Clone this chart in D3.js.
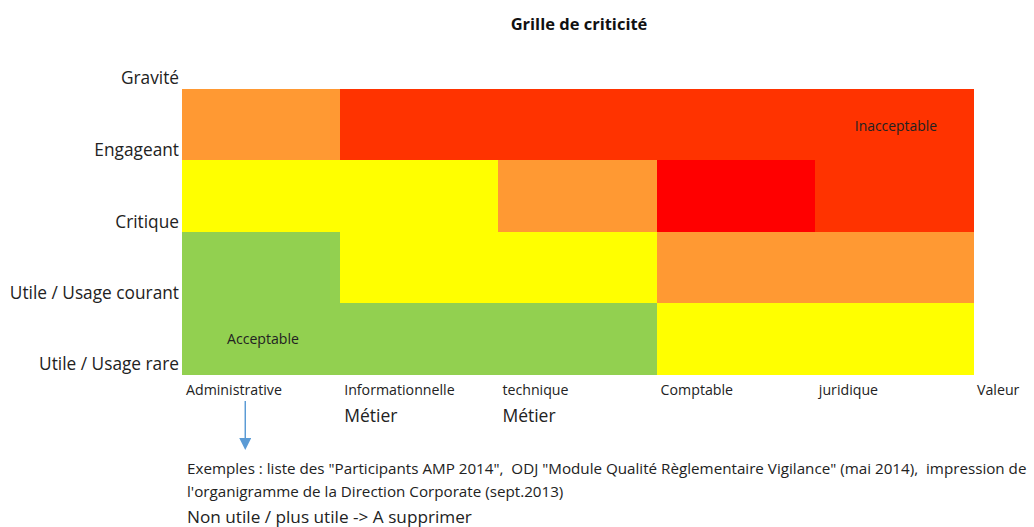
<!DOCTYPE html>
<html>
<head>
<meta charset="utf-8">
<script src="https://cdn.jsdelivr.net/npm/d3@7"></script>
<style>
  body { margin: 0; background: #fff; }
  svg { font-family: "Open Sans", "Noto Sans", sans-serif; }
  text { white-space: pre; }
</style>
</head>
<body>
<svg id="chart"></svg>
<script>
const width = 1034;
const height = 527;

// axis categories
const valeurs = ["Administrative", "Informationnelle", "technique", "Comptable", "juridique"];
const gravites = ["Engageant", "Critique", "Utile / Usage courant", "Utile / Usage rare"];
const niveaux = ["vert", "jaune", "orange", "rougeOrange", "rouge"];
const couleurs = ["#92d050", "#ffff00", "#ff9933", "#ff3300", "#ff0000"];

// level of each cell, one row per gravity (top to bottom)
const grille = [
  ["orange", "rougeOrange", "rougeOrange", "rougeOrange", "rougeOrange"],
  ["jaune", "jaune", "orange", "rouge", "rougeOrange"],
  ["vert", "jaune", "jaune", "orange", "orange"],
  ["vert", "vert", "vert", "jaune", "jaune"]
];

const margin = { top: 89, left: 182, right: 61, bottom: 153 };

const svg = d3.select("#chart")
  .attr("width", width)
  .attr("height", height);

const x = d3.scaleBand()
  .domain(valeurs)
  .range([margin.left, width - margin.right]);

const y = d3.scaleBand()
  .domain(gravites)
  .range([margin.top, height - margin.bottom]);

const color = d3.scaleOrdinal()
  .domain(niveaux)
  .range(couleurs);

// cells
const cells = [];
grille.forEach((row, i) => row.forEach((lvl, j) => {
  cells.push({ g: gravites[i], v: valeurs[j], lvl: lvl });
}));

svg.append("g")
  .attr("shape-rendering", "crispEdges")
  .selectAll("rect")
  .data(cells)
  .join("rect")
  .attr("x", d => Math.round(x(d.v)))
  .attr("y", d => Math.round(y(d.g)))
  .attr("width", x.bandwidth() + 1)
  .attr("height", y.bandwidth() + 1)
  .attr("fill", d => color(d.lvl));

// title
svg.append("text")
  .attr("x", 579)
  .attr("y", 30)
  .attr("text-anchor", "middle")
  .attr("font-weight", "bold")
  .attr("font-size", 16.5)
  .attr("fill", "#111")
  .text("Grille de criticité");

// y labels sit on the lower edge of each row
const yLab = svg.append("g")
  .attr("font-size", 17.3)
  .attr("fill", "#222")
  .attr("text-anchor", "end");

yLab.append("text")
  .attr("x", margin.left - 3)
  .attr("y", y.range()[0] - 5)
  .text("Gravité");

yLab.selectAll("text.g")
  .data(gravites)
  .join("text")
  .attr("class", "g")
  .attr("x", margin.left - 3)
  .attr("y", d => y(d) + y.bandwidth() - 4)
  .text(d => d);

// x labels at the left edge of each column
const xLab = svg.append("g")
  .attr("font-size", 14.2)
  .attr("fill", "#222");

xLab.selectAll("text.v")
  .data(valeurs.concat(["Valeur"]))
  .join("text")
  .attr("class", "v")
  .attr("x", (d, i) => (i < valeurs.length ? x(d) : x.range()[1]) + 4)
  .attr("y", height - margin.bottom + 21)
  .text(d => d);

xLab.selectAll("text.m")
  .data(["Informationnelle", "technique"])
  .join("text")
  .attr("class", "m")
  .attr("x", d => x(d) + 4)
  .attr("y", height - margin.bottom + 48)
  .attr("font-size", 17.5)
  .text("Métier");

// zone labels
svg.append("text")
  .attr("x", x("juridique") + 40)
  .attr("y", y("Engageant") + 42)
  .attr("font-size", 13.9)
  .attr("fill", "#222")
  .text("Inacceptable");

svg.append("text")
  .attr("x", x("Administrative") + 45)
  .attr("y", y("Utile / Usage rare") + 41)
  .attr("font-size", 14.1)
  .attr("fill", "#222")
  .text("Acceptable");

// arrow
svg.append("defs").append("marker")
  .attr("id", "tete")
  .attr("viewBox", "0 0 10 10")
  .attr("refX", 5).attr("refY", 5)
  .attr("markerWidth", 8).attr("markerHeight", 8)
  .attr("orient", "auto")
  .append("path")
  .attr("d", "M0,0L10,5L0,10Z")
  .attr("fill", "#5b9bd5");

const ax = x("Administrative") + x.bandwidth() * 0.4;
svg.append("line")
  .attr("x1", ax).attr("x2", ax)
  .attr("y1", 401).attr("y2", 444)
  .attr("stroke", "#5b9bd5")
  .attr("stroke-width", 1.5)
  .attr("marker-end", "url(#tete)");

// notes below
const notes = svg.append("g").attr("fill", "#222");
notes.append("text")
  .attr("x", 187).attr("y", 474)
  .attr("font-size", 15.2)
  .text("Exemples : liste des \"Participants AMP 2014\",  ODJ \"Module Qualité Règlementaire Vigilance\" (mai 2014),  impression de");
notes.append("text")
  .attr("x", 187).attr("y", 497)
  .attr("font-size", 15.2)
  .text("l'organigramme de la Direction Corporate (sept.2013)");
notes.append("text")
  .attr("x", 187).attr("y", 523)
  .attr("font-size", 17.2)
  .text("Non utile / plus utile -> A supprimer");
</script>
</body>
</html>
